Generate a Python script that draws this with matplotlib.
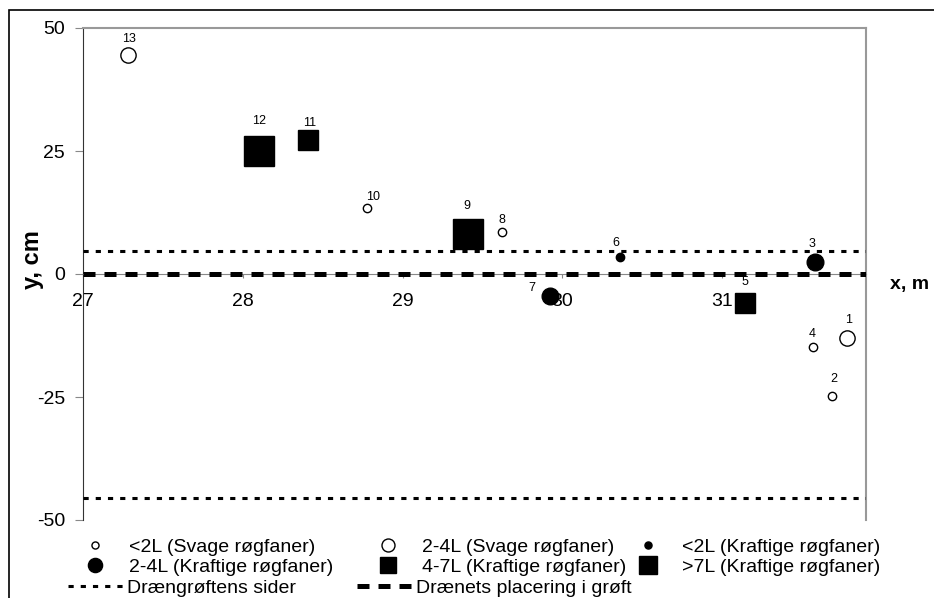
import matplotlib.pyplot as plt
from matplotlib.patches import Rectangle

plt.rcParams['font.family'] = ['Liberation Sans', 'DejaVu Sans']
plt.rcParams['axes.unicode_minus'] = False

# point number, x (m), y (cm), category
nr = [1, 2, 3, 4, 5, 6, 7, 8, 9, 10, 11, 12, 13]
x_m = [31.78, 31.69, 31.58, 31.57, 31.14, 30.36, 29.92, 29.62, 29.41, 28.78, 28.41, 28.10, 27.28]
y_cm = [-13.0, -24.7, 2.4, -14.8, -5.9, 3.4, -4.5, 8.5, 8.2, 13.4, 27.3, 25.1, 44.6]
kat = ['s24', 's2', 'k24', 's2', 'k47', 'k2', 'k24', 's2', 'k7', 's2', 'k47', 'k7', 's24']

kat_order = ['s2', 's24', 'k2', 'k24', 'k47', 'k7']
kat_labels = {
    's2': '<2L (Svage røgfaner)',
    's24': '2-4L (Svage røgfaner)',
    'k2': '<2L (Kraftige røgfaner)',
    'k24': '2-4L (Kraftige røgfaner)',
    'k47': '4-7L (Kraftige røgfaner)',
    'k7': '>7L (Kraftige røgfaner)',
}

# horizontal reference lines (cm)
groeft_sider = [4.6, -45.6]
draen_y = 0

# marker styles per category: marker, size (pt), filled, legend scale
kat_style = {
    's2': ('o', 6, False, 0.85),
    's24': ('o', 11, False, 0.85),
    'k2': ('o', 6, True, 0.85),
    'k24': ('o', 12, True, 0.85),
    'k47': ('s', 14, True, 0.8),
    'k7': ('s', 21, True, 0.65),
}

# label offsets (points) for the point numbers
lab_off = {1: (1, 13), 2: (1, 12), 3: (-2, 13), 4: (-1, 9), 5: (0, 15), 6: (-3, 10),
           7: (-13, 6), 8: (0, 9), 9: (-1, 20), 10: (4, 8), 11: (1, 12), 12: (0, 21), 13: (1, 11)}

fig = plt.figure(figsize=(9.34, 5.98), dpi=100)
ax = fig.add_axes([83/934, 1 - 520/598, 783/934, 492/598])

# outer frame
fig.patches.append(Rectangle((9/934, -0.2), 1.2, 1.2 - 10/598, transform=fig.transFigure,
                             fill=False, edgecolor='black', linewidth=1.2, clip_on=False))

handles = {}
for k in kat_order:
    m, s, filled, _ = kat_style[k]
    xs = [x for x, c in zip(x_m, kat) if c == k]
    ys = [y for y, c in zip(y_cm, kat) if c == k]
    h, = ax.plot(xs, ys, linestyle='none', marker=m, markersize=s,
                 markerfacecolor='black' if filled else 'white',
                 markeredgecolor='black', markeredgewidth=1.0, zorder=4)
    handles[k] = h

for n, x, y in zip(nr, x_m, y_cm):
    ax.annotate(str(n), (x, y), xytext=lab_off[n], textcoords='offset points',
                ha='center', va='center', fontsize=9, zorder=5)

l1 = None
for g in groeft_sider:
    l1 = ax.axhline(g, color='black', linewidth=2.2, dashes=(1.7, 2.3), zorder=3)
l2 = ax.axhline(draen_y, color='black', linewidth=3.6, dashes=(2.4, 1.8), zorder=3)

ax.set_xlim(27, 31.9)
ax.set_ylim(-50, 50)
ax.set_xticks([27, 28, 29, 30, 31])
ax.set_yticks([50, 25, 0, -25, -50])

ax.spines['bottom'].set_position(('data', 0))
ax.spines['bottom'].set_color('#888888')
ax.spines['left'].set_color('#333333')
ax.spines['top'].set_color('#999999')
ax.spines['right'].set_color('#999999')
for s in ['top', 'right']:
    ax.spines[s].set_linewidth(1.5)

ax.tick_params(axis='x', direction='out', length=3, color='#888888', pad=10.5, labelsize=14)
ax.tick_params(axis='y', direction='out', length=6, color='#888888', pad=7, labelsize=14)

fig.text(32/934, 1 - 260/598, 'y, cm', rotation=90, ha='center', va='center',
         fontsize=17, fontweight='bold')
fig.text(910/934, 1 - 285/598, 'x, m', ha='center', va='center',
         fontsize=14, fontweight='bold')

# legend entries: key, label, handle start x (px), row centre y (px)
leg_fs = 14
em = leg_fs * 100 / 72
leg_entries = [
    ('s2', kat_labels['s2'], 75, 547),
    ('s24', kat_labels['s24'], 368, 547),
    ('k2', kat_labels['k2'], 628, 547),
    ('k24', kat_labels['k24'], 75, 567),
    ('k47', kat_labels['k47'], 368, 567),
    ('k7', kat_labels['k7'], 628, 567),
    ('sider', 'Drængrøftens sider', 68, 588),
    ('draen', 'Drænets placering i grøft', 357, 588),
]
for key, lab, x0, y0 in leg_entries:
    if key in handles:
        h = handles[key]
        hl, pad, ms = 40 / em, 14 / em, kat_style[key][3]
    else:
        h = l1 if key == 'sider' else l2
        hl, pad, ms = 55 / em, 4 / em, 1.0
    fig.legend([h], [lab], loc='center left', bbox_to_anchor=(x0/934, 1 - y0/598),
               frameon=False, fontsize=leg_fs, borderpad=0, borderaxespad=0,
               handlelength=hl, handletextpad=pad, markerscale=ms)

fig.savefig('out.png', dpi=100)
